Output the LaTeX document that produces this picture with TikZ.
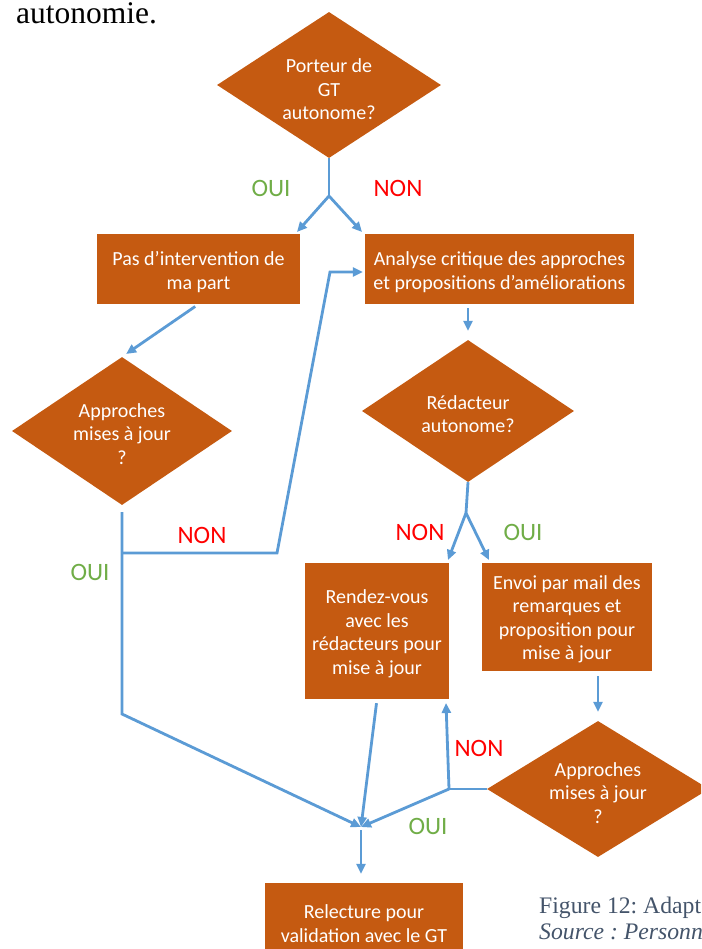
\documentclass[tikz,border=0pt]{standalone}
\usepackage{fontspec}
\setmainfont{Liberation Serif}
\newfontfamily\boxfont{Carlito}
\usetikzlibrary{shapes.geometric,arrows.meta}
\definecolor{boxorange}{RGB}{197,90,17}
\definecolor{flowblue}{RGB}{91,155,213}
\definecolor{ouigreen}{RGB}{112,173,71}
\definecolor{nonred}{RGB}{255,0,0}
\definecolor{captiongray}{RGB}{68,84,106}
\frenchspacing

\begin{document}
\begin{tikzpicture}[x=1pt,y=-1pt,
  stepbox/.style={rectangle, fill=boxorange, inner sep=0pt},
  decision/.style={diamond, fill=boxorange, inner sep=0pt},
  boxtext/.style={text=white, align=center, inner sep=0pt,
    font=\boxfont\fontsize{20}{23.5}\selectfont},
  conn/.style={draw=flowblue, line width=2.8pt},
  arr/.style={conn, -{Triangle[length=10pt,width=9pt]}},
  yes/.style={text=ouigreen, font=\boxfont\fontsize{25}{28}\selectfont},
  no/.style={text=nonred, font=\boxfont\fontsize{25}{28}\selectfont},
  body/.style={anchor=base west, inner sep=0pt, text=black,
    font=\fontsize{31.5}{36}\selectfont},
  caption/.style={anchor=base west, inner sep=0pt, text=captiongray,
    font=\fontsize{23.7}{27}\selectfont}
]
\useasboundingbox (0,0) rectangle (701,949);
\clip (0,0) rectangle (701,949);

% running text and caption
\node[body] (bodytext) at (16,24) {autonomie.};
\node[caption] (cap1) at (539,913) {Figure 12: Adapt};
\node[caption, font=\fontsize{23.7}{27}\selectfont\itshape] (cap2) at (539,939) {Source : Personn};

% decisions
\node[decision, minimum width=224pt, minimum height=146pt] (d1) at (329,85) {};
\node[decision, minimum width=220pt, minimum height=148pt] (d2) at (122,431) {};
\node[decision, minimum width=212pt, minimum height=142pt] (d3) at (468,411) {};
\node[decision, minimum width=222pt, minimum height=136pt] (d4) at (598,789) {};

% actions
\node[stepbox, minimum width=203pt, minimum height=70pt] (b1) at (198.5,269) {};
\node[stepbox, minimum width=269pt, minimum height=70pt] (b2) at (499.5,269) {};
\node[stepbox, minimum width=144pt, minimum height=136pt] (b3) at (377,631) {};
\node[stepbox, minimum width=170pt, minimum height=108pt] (b4) at (567,617) {};
\node[stepbox, minimum width=198pt, minimum height=79pt] (b5) at (364,922.5) {};

% texts inside the shapes, set a little below the shape centres
\node[boxtext] (d1-txt) at ([yshift=-4.5pt]d1.center) {Porteur de\\GT\\autonome?};
\node[boxtext] (d2-txt) at ([yshift=-3pt]d2.center) {Approches\\mises à jour\\?};
\node[boxtext] (d3-txt) at ([yshift=-3pt]d3.center) {Rédacteur\\autonome?};
\node[boxtext] (d4-txt) at ([yshift=-4pt]d4.center) {Approches\\mises à jour\\?};
\node[boxtext] (b1-txt) at ([yshift=-3pt]b1.center) {Pas d’intervention de\\ma part};
\node[boxtext] (b2-txt) at ([yshift=-3pt]b2.center) {Analyse critique des approches\\et propositions d’améliorations};
\node[boxtext] (b3-txt) at ([yshift=-3pt]b3.center) {Rendez-vous\\avec les\\rédacteurs pour\\mise à jour};
\node[boxtext] (b4-txt) at ([yshift=-2.5pt]b4.center) {Envoi par mail des\\remarques et\\proposition pour\\mise à jour};
\node[boxtext] (b5-txt) at ([yshift=-1pt]b5.center) {Relecture pour\\validation avec le GT};

% junctions and bends
\coordinate (j1) at (329,196);
\coordinate (t1a) at (297,232);
\coordinate (t1b) at (362,232);
\coordinate (j2) at (122,553);
\coordinate (c1) at (122,714);
\coordinate (c2) at (277,553);
\coordinate (c3) at (330,272);
\coordinate (j3) at (361,827);
\coordinate (j4) at (466,513);
\coordinate (t3a) at (448,560);
\coordinate (t3b) at (489,560);
\coordinate (j5) at (449,789);
\coordinate (t5) at (446,703);

% connectors
\draw[conn] (d1.south) -- (j1);
\draw[arr] (j1) -- (t1a);
\draw[arr] (j1) -- (t1b);
\draw[arr, shorten <=4pt, shorten >=5pt] (b1.south) -- (d2.north);
\draw[arr, shorten <=7pt] (d2.south) -- (c1) -- (j3);
\draw[arr, shorten >=2pt] (j2) -- (c2) -- (c3) -- (c3 -| b2.west);
\draw[arr, shorten <=4pt, shorten >=9pt] (b2.south -| d3.north) -- (d3.north);
\draw[conn] (d3.south) -- (j4);
\draw[arr] (j4) -- (t3a);
\draw[arr] (j4) -- (t3b);
\draw[arr, shorten <=5pt, shorten >=9pt] (b4.south -| d4.north) -- (d4.north);
\draw[conn] (d4.west) -- (j5);
\draw[arr] (j5) -- (t5);
\draw[arr] (j5) -- (j3);
\draw[arr, shorten <=4pt] (b3.south) -- (j3);
\draw[arr, shorten <=3pt, shorten >=9pt] (j3) -- (j3 |- b5.north);

% branch labels
\node[yes] (l1) at (271,188) {OUI};
\node[no] (l2) at (398,188) {NON};
\node[no] (l3) at (202,535) {NON};
\node[yes] (l4) at (90,572) {OUI};
\node[no] (l5) at (420,532) {NON};
\node[yes] (l6) at (523,532) {OUI};
\node[no] (l7) at (479,748) {NON};
\node[yes] (l8) at (428,826) {OUI};
\end{tikzpicture}
\end{document}
